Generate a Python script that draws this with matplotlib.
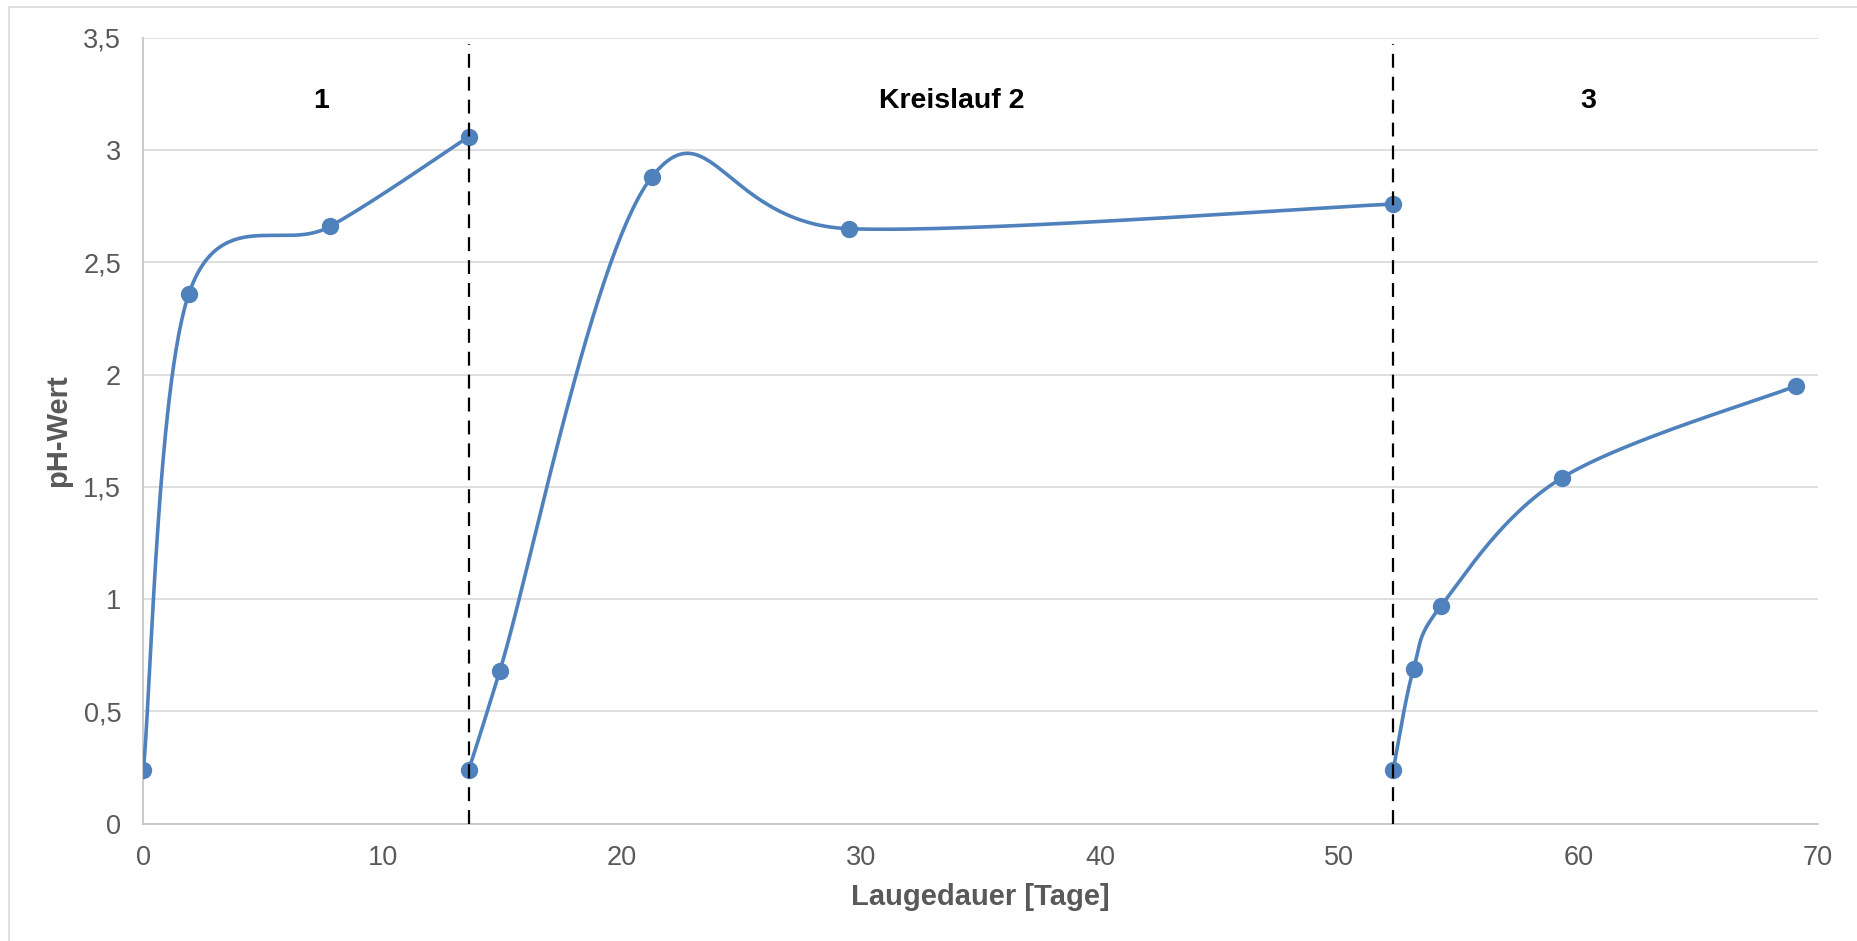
import numpy as np
import matplotlib
matplotlib.use("Agg")
import matplotlib.pyplot as plt
from matplotlib.patches import Rectangle

plt.rcParams["font.family"] = ["Liberation Sans", "DejaVu Sans"]
plt.rcParams["lines.scale_dashes"] = False

# Leaching runs (Kreisläufe): time in days and pH value
run1_days = [0.0, 1.9, 7.8, 13.6]
run1_ph = [0.24, 2.36, 2.66, 3.06]

run2_days = [13.6, 14.9, 21.25, 29.5, 52.25]
run2_ph = [0.24, 0.68, 2.88, 2.65, 2.76]

run3_days = [52.25, 53.1, 54.25, 59.3, 69.1]
run3_ph = [0.24, 0.69, 0.97, 1.54, 1.95]

run_boundaries = [13.6, 52.25]
run_labels = ["1", "Kreislauf 2", "3"]
run_label_x = [7.45, 33.8, 60.4]

x_ticks = [0, 10, 20, 30, 40, 50, 60, 70]
y_ticks = [0, 0.5, 1, 1.5, 2, 2.5, 3, 3.5]

BLUE = "#4f81bd"
GREY_TEXT = "#595959"
GRID = "#d9d9d9"


def smooth_curve(xs, ys, steps=60):
    """Catmull-Rom style Bezier smoothing (as used by spreadsheet smoothed lines)."""
    p = np.column_stack([xs, ys]).astype(float)
    n = len(p)
    out = []
    t = np.linspace(0, 1, steps)[:, None]
    for i in range(n - 1):
        p0 = p[max(i - 1, 0)]
        p1 = p[i]
        p2 = p[i + 1]
        p3 = p[min(i + 2, n - 1)]
        c1 = p1 + (p2 - p0) / 6.0
        c2 = p2 - (p3 - p1) / 6.0
        seg = ((1 - t) ** 3) * p1 + 3 * ((1 - t) ** 2) * t * c1 + 3 * (1 - t) * t ** 2 * c2 + t ** 3 * p2
        out.append(seg if i == 0 else seg[1:])
    out = np.vstack(out)
    return out[:, 0], out[:, 1]


fig = plt.figure(figsize=(18.58, 9.41), dpi=100)
ax = fig.add_axes([143.4 / 1858, 1 - 823.6 / 941, (1817.8 - 143.4) / 1858, (823.6 - 37.9) / 941])

# light chart-area frame
fig.patches.append(Rectangle((9 / 1858, -0.1), 1.2, 1 - 7.5 / 941 + 0.1,
                             transform=fig.transFigure, fill=False,
                             edgecolor=GRID, linewidth=1.2, zorder=0))

for xs, ys in [(run1_days, run1_ph), (run2_days, run2_ph), (run3_days, run3_ph)]:
    sx, sy = smooth_curve(xs, ys)
    ax.plot(sx, sy, color=BLUE, linewidth=2.6, solid_capstyle="round", zorder=3)
    ax.plot(xs, ys, linestyle="none", marker="o", markersize=12.5,
            color=BLUE, markeredgewidth=0, zorder=4)

for xb in run_boundaries:
    ax.plot([xb, xb], [0, 3.475], color="black", linewidth=1.6,
            dashes=(10, 6.5), zorder=5)

for lx, lab in zip(run_label_x, run_labels):
    ax.text(lx, 3.22, lab, ha="center", va="center", fontsize=20.5,
            fontweight="bold", color="black")

ax.set_xlim(0, 70)
ax.set_ylim(0, 3.5)
ax.set_xticks(x_ticks)
ax.set_yticks(y_ticks)
ax.set_xticklabels([str(v) for v in x_ticks])
ax.set_yticklabels([("%g" % v).replace(".", ",") for v in y_ticks])
ax.tick_params(axis="both", length=0, labelsize=19.5, colors=GREY_TEXT)
ax.tick_params(axis="x", pad=15.5)
ax.tick_params(axis="y", pad=16)

ax.grid(axis="y", color=GRID, linewidth=1.2)
ax.set_axisbelow(True)
for side in ["top", "right"]:
    ax.spines[side].set_visible(False)
for side in ["left", "bottom"]:
    ax.spines[side].set_color("#c6c6c6")
    ax.spines[side].set_linewidth(1.3)

fig.text(980 / 1858, 1 - 897 / 941, "Laugedauer [Tage]", ha="center", va="center",
         fontsize=21, fontweight="bold", color=GREY_TEXT)
fig.text(58 / 1858, 1 - 431 / 941, "pH-Wert", ha="center", va="center",
         rotation=90, fontsize=21, fontweight="bold", color=GREY_TEXT)

fig.savefig("out.png", dpi=100, facecolor="white")
